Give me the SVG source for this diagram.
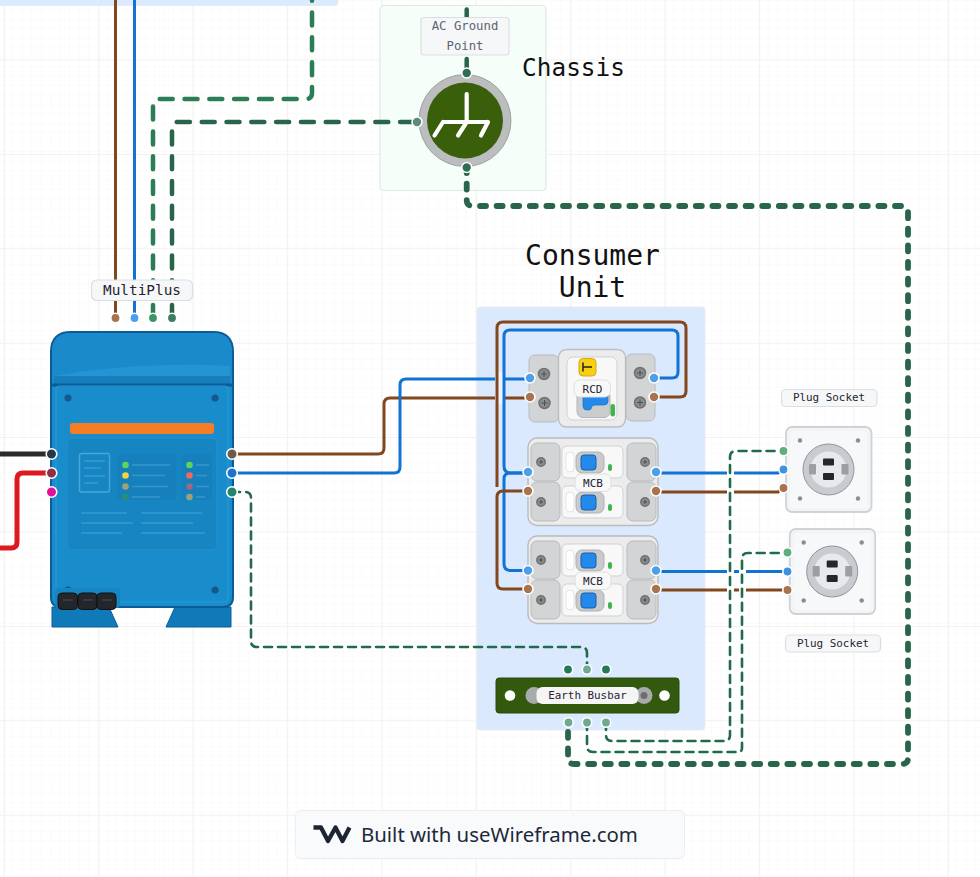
<svg xmlns="http://www.w3.org/2000/svg" width="980" height="877" viewBox="0 0 980 877">
<style>
.mono{font-family:"DejaVu Sans Mono","Liberation Mono",monospace;fill:#1f2430;text-anchor:middle}
.lbl{fill:#f6f7f8;stroke:#dcdfe2;stroke-width:1.2}
.w{fill:none;stroke-linejoin:round}
.bl{stroke:#1273d4;stroke-width:3}
.br{stroke:#83471e;stroke-width:3}
.g1{stroke:#2b7d55;stroke-width:4.5;stroke-linecap:round;stroke-dasharray:13 11.8}
.g2{stroke:#28654a;stroke-width:4.5;stroke-linecap:round;stroke-dasharray:13 11.8}
.g3{stroke:#28654a;stroke-width:5.8;stroke-linecap:round;stroke-dasharray:6 10.6}
.g4{stroke:#1f6b4a;stroke-width:2.6;stroke-linecap:round;stroke-dasharray:8 6}
.n{stroke:#fff;stroke-width:1.6}
.term{fill:#d3d4d5;stroke:#b8babc;stroke-width:1}
.sc{fill:#8a8b8d;stroke:#6f7072;stroke-width:1.5}
.sx{stroke:#4f5052;stroke-width:1;fill:none}
.ps{fill:#8b8d90}
.ln{stroke:#4aa6d8;stroke-width:1.6;opacity:.6}
.scr{fill:#14598c}
</style>
<defs>
<pattern id="gm" width="9.44" height="9.44" patternUnits="userSpaceOnUse" x="4" y="1"><path d="M9.44 0V9.44H0" fill="none" stroke="#f7f8f8" stroke-width="1"/></pattern>
<pattern id="gM" width="94.4" height="94.4" patternUnits="userSpaceOnUse" x="4" y="59.5"><path d="M0.5 0V94.4M0 0.5H94.4" fill="none" stroke="#f0f1f2" stroke-width="1"/></pattern>
<g id="mcbBody">
<rect x="528" y="438" width="130" height="87.500" rx="9" fill="#ececed" stroke="#b9bbbd" stroke-width="1.400"/>
<rect x="531" y="443" width="29" height="38" rx="6" class="term"/><rect x="531" y="482" width="29" height="39" rx="6" class="term"/>
<rect x="627" y="443" width="29" height="38" rx="6" class="term"/><rect x="627" y="482" width="29" height="39" rx="6" class="term"/>
<circle cx="541" cy="462" r="4.200" class="sc"/><circle cx="541" cy="502" r="4.200" class="sc"/><circle cx="645" cy="462" r="4.200" class="sc"/><circle cx="645" cy="502" r="4.200" class="sc"/>
<path class="sx" d="M539 462H543M541 460V464M539 502H543M541 500V504M643 462H647M645 460V464M643 502H647M645 500V504"/>
<g id="mcbHalf"><rect x="562" y="446" width="61" height="32" rx="5" fill="#f8f8f9" stroke="#d0d1d3"/><rect x="566" y="452" width="8" height="20" rx="4" fill="#fff" stroke="#e2e3e4"/><rect x="576" y="452" width="28" height="21" rx="6" fill="#c9cacc" stroke="#aeb0b2"/><rect x="581" y="455" width="15" height="15" rx="3" fill="#2389ea" stroke="#1a5fa8"/><rect x="608" y="464" width="4" height="7" rx="2" fill="#3fb54f"/></g>
<use href="#mcbHalf" y="40"/>
<rect x="575" y="474" width="36" height="17.500" rx="6" fill="#f8f8f9" stroke="#dedfe1"/>
<text x="593" y="486.500" font-size="11" class="mono">MCB</text>
</g>
<g id="sock">
<rect x="786" y="427" width="85.500" height="85" rx="6" fill="#f3f4f6" stroke="#cfd3d8" stroke-width="1.800"/>
<rect x="790" y="431" width="77.500" height="77" rx="4" fill="#f7f8f9"/>
<circle cx="800" cy="440.500" r="2.200" class="ps"/><circle cx="858" cy="440.500" r="2.200" class="ps"/><circle cx="800" cy="498.500" r="2.200" class="ps"/><circle cx="858" cy="498.500" r="2.200" class="ps"/>
<circle cx="828.500" cy="469.500" r="25.500" fill="#c8ccd1" stroke="#8f949a" stroke-width="1"/>
<circle cx="828.500" cy="469.500" r="18" fill="#e7e9ec"/>
<rect x="809" y="464" width="7" height="10.500" rx="1" fill="#9c9ea1"/><rect x="841.500" y="464" width="7" height="10.500" rx="1" fill="#9c9ea1"/>
<rect x="823" y="458.500" width="11" height="7" rx="1" fill="#24262a"/><rect x="823" y="473" width="11" height="7" rx="1" fill="#24262a"/>
</g>
</defs>
<rect width="980" height="877" fill="#fff"/>
<rect width="980" height="877" fill="url(#gm)"/>
<rect width="980" height="877" fill="url(#gM)"/>
<rect x="-5" y="-10" width="343" height="15.500" rx="3" fill="#dbeafe" stroke="#e4ecf6"/>
<rect x="380" y="5.500" width="166" height="185" rx="4" fill="#f6fef9" stroke="#e0e8e4" stroke-width="1.200"/>
<rect x="477" y="307" width="228" height="423" rx="3" fill="#dbe9fe" stroke="#e6edf6"/>
<text x="592.500" y="265" font-size="28" class="mono" style="fill:#111">Consumer</text>
<text x="592.500" y="297" font-size="28" class="mono" style="fill:#111">Unit</text>
<text x="573.500" y="76" font-size="24.400" class="mono" style="fill:#111">Chassis</text>

<g id="connectors">
<path class="w br" d="M115.500 0V318"/>
<path class="w bl" d="M134.500 0V318"/>
<path class="w g1" d="M153 318V105Q153 99 159 99H306Q312 99 312 93V-4"/>
<path class="w g2" d="M172 318V128Q172 122 178 122H417"/>
<path class="w g2" d="M466.700 72V-4"/>
<path class="w g3" d="M466.700 167V200Q466.700 206 472.700 206H902Q908 206 908 212V758Q908 764 902 764H574Q568 764 568 758V722"/>
<path class="w" stroke="#2b2b2b" stroke-width="5" d="M-2 454H48"/>
<path class="w" stroke="#dc1a1f" stroke-width="5" d="M51 473H23Q17 473 17 479V542Q17 548 11 548H-2"/>
<path class="w br" d="M232 454H378Q384 454 384 448V404Q384 398 390 398H530"/>
<path class="w bl" d="M232 473H394Q400 473 400 467V385Q400 379 406 379H530"/>
<path d="M495 372H505V404H495Z" fill="#eef4fd"/>
<path class="w br" d="M654 397H680Q686 397 686 391V328Q686 322 680 322H503Q497 322 497 328V487"/>
<path class="w bl" d="M654 378H672Q678 378 678 372V336Q678 330 672 330H510Q504 330 504 336V466Q504 473 511 473H528"/>
<path class="w bl" d="M528 473H510Q504 473 504 479V564Q504 570.500 511 570.500H528"/>
<path class="w br" d="M528 491H503Q497 491 497 497V583Q497 589 503 589H528"/>
<path class="w bl" d="M656 473H727M734 473H778L783 469"/>
<path class="w br" d="M656 492H727M734 492H778L783 488"/>
<path class="w bl" d="M656 571.500H727M734 571.500H739M746 571.500H787"/>
<path class="w br" d="M656 590H727M734 590H739M746 590H787"/>
<path class="w g4" d="M232 492H245Q251 492 251 498V641Q251 647 257 647H581Q587 647 587 653V670"/>
<path class="w g4" d="M606 722V735Q606 741 612 741H724Q730 741 730 735V457Q730 451 736 451H783"/>
<path class="w g4" d="M587 722V746Q587 752 593 752H738Q742 752 742 748V559Q742 553 748 553H787"/>
</g>

<g id="ground">
<rect x="421" y="17.500" width="88" height="37.500" rx="3" class="lbl"/>
<text x="465" y="30" font-size="12.300" class="mono" style="fill:#5b6472">AC Ground</text>
<text x="465" y="49.500" font-size="12.300" class="mono" style="fill:#5b6472">Point</text>
<circle cx="465" cy="120.500" r="46" fill="#bcbdbf" stroke="#9fa1a3" stroke-width="1"/>
<circle cx="465" cy="120.500" r="38" fill="#395f0b"/>
<path d="M466.700 94V122M443 122H488M443 122L434.500 135.500M466.700 122L458 135.500M488 122L481 135.500" fill="none" stroke="#fff" stroke-width="4.200" stroke-linecap="round" stroke-linejoin="round"/>
<circle cx="466.700" cy="73" r="5" fill="#2f6e52" class="n"/>
<circle cx="466.700" cy="167.500" r="5" fill="#2f6e52" class="n"/>
<circle cx="417" cy="122" r="5" fill="#5d8c76" class="n"/>
</g>

<g id="multiplus">
<path d="M52 627V607H109L118 627ZM175 607L166 627H231V607Z" fill="#1079b8" stroke="#0d5f98" stroke-width="1"/>
<path d="M51 352Q51 332 71 332H213Q233 332 233 352V597Q233 607 223 607H61Q51 607 51 597Z" fill="#198ccb" stroke="#0b5c96" stroke-width="2"/>
<path d="M52 385V352Q52 333 71 333H213Q232 333 232 352V385Z" fill="#1a8acb"/>
<path d="M54 376Q110 366 170 365Q200 364 230 366V376Z" fill="#2a9ad6" opacity=".7"/>
<path d="M54 376H230V384H54Z" fill="#177fbd"/>
<path d="M51 385H233" stroke="#0b5c96" stroke-width="3"/>
<rect x="56" y="386" width="172" height="216" rx="3" fill="none" stroke="#2b9ad6" stroke-width="1"/>
<circle cx="68" cy="398" r="3.500" class="scr"/><circle cx="215" cy="398" r="3.500" class="scr"/><circle cx="68" cy="590" r="3.500" class="scr"/><circle cx="215" cy="590" r="3.500" class="scr"/>
<rect x="70" y="423" width="144" height="11" rx="3" fill="#f57d25"/>
<rect x="67" y="438" width="150" height="112" rx="6" fill="#1885c3" stroke="#2790cd"/>
<rect x="79.500" y="453.500" width="30" height="38.500" rx="2" fill="none" stroke="#4aa6d8" stroke-width="1.400"/>
<path class="ln" d="M84 461H105M84 468H101M84 476H105M84 483H98"/>
<rect x="117" y="454" width="59" height="46" rx="4" fill="#1680bc"/>
<rect x="182" y="454" width="30" height="46" rx="4" fill="#1680bc"/>
<circle cx="125.500" cy="465" r="3.300" fill="#5fd35f"/><circle cx="125.500" cy="475.500" r="3.300" fill="#f5d33f"/><circle cx="125.500" cy="486.500" r="3.300" fill="#9aa376"/><circle cx="125.500" cy="497" r="3.300" fill="#2a8f78"/>
<circle cx="189.500" cy="465" r="3.300" fill="#5fd35f"/><circle cx="189.500" cy="475.500" r="3.300" fill="#ef6a5a"/><circle cx="189.500" cy="486.500" r="3.300" fill="#9a6a80"/><circle cx="189.500" cy="497" r="3.300" fill="#9aa376"/>
<path class="ln" d="M132 465H170M132 475.500H165M132 486.500H168M132 497H160M196 465H209M196 475.500H207M196 486.500H209M196 497H205"/>
<path class="ln" d="M81 513H127M81 523H133M81 533H122M141 513H202M141 523H193M141 533H205"/>
<rect x="55" y="588" width="65" height="20" rx="4" fill="#1885c3"/>
<rect x="58" y="593" width="19.500" height="16.500" rx="4" fill="#23262b" stroke="#111"/><rect x="78" y="593" width="19" height="16.500" rx="4" fill="#23262b" stroke="#111"/><rect x="97" y="593" width="19" height="16.500" rx="4" fill="#23262b" stroke="#111"/>
<path d="M63 600H73M83 600H93M102 600H112" stroke="#4a4d52" stroke-width="1"/>
<rect x="91.500" y="280" width="101" height="20.500" rx="5" class="lbl"/>
<text x="142" y="294.500" font-size="14.400" class="mono">MultiPlus</text>
<circle cx="115.500" cy="318" r="4.700" fill="#a8734e" class="n"/><circle cx="134.500" cy="318" r="4.700" fill="#4f9fe6" class="n"/><circle cx="153" cy="318" r="4.700" fill="#3f9465" class="n"/><circle cx="172" cy="318" r="4.700" fill="#3b7d60" class="n"/>
<circle cx="51.500" cy="454" r="5.300" fill="#26384a" class="n"/><circle cx="51.500" cy="473" r="5.300" fill="#8f2f46" class="n"/><circle cx="51.500" cy="492" r="5.300" fill="#e3109a" class="n"/>
<circle cx="232" cy="454" r="5.300" fill="#6a5a50" class="n"/><circle cx="232" cy="473" r="5.300" fill="#1b74cc" class="n"/><circle cx="232" cy="492" r="5.300" fill="#22876a" class="n"/>
</g>

<g id="rcd">
<rect x="529" y="355" width="30" height="67" rx="6" class="term"/>
<rect x="626" y="354" width="29" height="67" rx="6" class="term"/>
<rect x="558.500" y="349.500" width="67" height="77.500" rx="8" fill="#ececed" stroke="#bcbec0" stroke-width="1.400"/>
<rect x="567" y="357" width="50" height="63" rx="6" fill="#f8f8f9" stroke="#d0d1d3"/>
<rect x="579" y="358.500" width="17" height="17.500" rx="4" fill="#f7cf14" stroke="#d9a90c"/>
<path d="M583 367H592M583 362.500V371.500" stroke="#222" stroke-width="1.500" fill="none"/>
<rect x="577" y="390" width="33" height="27.500" rx="6" fill="#cbccce" stroke="#b2b4b6"/>
<path d="M583 394H608V401Q608 405 604 405H595Q591 405 591 409Q591 410 588 410H587Q583 410 583 406Z" fill="#2389ea" stroke="#1a6fc0" stroke-width=".7"/>
<rect x="610.500" y="404" width="4.500" height="12.500" rx="2.200" fill="#3fb54f"/>
<rect x="574" y="380" width="36.500" height="17" rx="6" fill="#f8f8f9" stroke="#dedfe1"/>
<text x="592.500" y="392.500" font-size="11" class="mono">RCD</text>
<circle cx="544" cy="374" r="5.500" class="sc"/><path class="sx" d="M541 374H547M544 371V377"/>
<circle cx="544.500" cy="403" r="5.500" class="sc"/><path class="sx" d="M541.500 403H547.500M544.500 400V406"/>
<circle cx="640" cy="373" r="5.500" class="sc"/><path class="sx" d="M637 373H643M640 370V376"/>
<circle cx="640" cy="402.500" r="5.500" class="sc"/><path class="sx" d="M637 402.500H643M640 399.500V405.500"/>
<circle cx="530" cy="378" r="5" fill="#4f9fe6" class="n"/><circle cx="530" cy="397" r="5" fill="#a8734e" class="n"/>
<circle cx="654" cy="378" r="5" fill="#4f9fe6" class="n"/><circle cx="654" cy="397" r="5" fill="#a8734e" class="n"/>
</g>

<g id="mcb1">
<use href="#mcbBody"/>
<circle cx="528" cy="472" r="5" fill="#4f9fe6" class="n"/><circle cx="528" cy="491" r="5" fill="#a8734e" class="n"/>
<circle cx="656" cy="472" r="5" fill="#4f9fe6" class="n"/><circle cx="656" cy="491" r="5" fill="#a8734e" class="n"/>
</g>
<g id="mcb2">
<use href="#mcbBody" y="98"/>
<circle cx="528" cy="570.500" r="5" fill="#4f9fe6" class="n"/><circle cx="528" cy="589" r="5" fill="#a8734e" class="n"/>
<circle cx="656" cy="570.500" r="5" fill="#4f9fe6" class="n"/><circle cx="656" cy="589" r="5" fill="#a8734e" class="n"/>
</g>

<g id="busbar">
<rect x="496" y="678" width="183" height="35" rx="3" fill="#33590f" stroke="#2a4a0c"/>
<circle cx="510" cy="695.500" r="5.300" fill="#fff"/><circle cx="664.500" cy="695.500" r="5.300" fill="#fff"/>
<circle cx="534" cy="695.500" r="8.500" fill="#a9aaac"/><circle cx="644" cy="695.500" r="8.500" fill="#a9aaac"/><circle cx="644" cy="695.500" r="3.500" fill="#6e6f71"/>
<rect x="536.500" y="687" width="102" height="17" rx="6" fill="#f5f5f6"/>
<text x="587.500" y="698.700" font-size="10.900" class="mono">Earth Busbar</text>
<circle cx="568" cy="669.500" r="4.700" fill="#237a57" class="n"/><circle cx="587" cy="669.500" r="4.700" fill="#6ea992" class="n"/><circle cx="606" cy="669.500" r="4.700" fill="#237a57" class="n"/>
<circle cx="568.500" cy="722.500" r="4.700" fill="#6ea992" class="n"/><circle cx="587" cy="722.500" r="4.700" fill="#6ea992" class="n"/><circle cx="606" cy="722.500" r="4.700" fill="#6ea992" class="n"/>
</g>

<g id="socket1">
<use href="#sock"/>
<rect x="781.500" y="389.500" width="95.500" height="17" rx="4" class="lbl"/>
<text x="829" y="401.200" font-size="10.900" class="mono">Plug Socket</text>
<circle cx="783.500" cy="451" r="4.700" fill="#5fae80" class="n"/><circle cx="783.500" cy="469.500" r="4.700" fill="#3f92e2" class="n"/><circle cx="783.500" cy="488" r="4.700" fill="#a8734e" class="n"/>
</g>
<g id="socket2">
<use href="#sock" x="3.700" y="102"/>
<rect x="785.500" y="635" width="95" height="17" rx="4" class="lbl"/>
<text x="833" y="646.700" font-size="10.900" class="mono">Plug Socket</text>
<circle cx="787.500" cy="552.500" r="4.700" fill="#5fae80" class="n"/><circle cx="787.500" cy="571.500" r="4.700" fill="#3f92e2" class="n"/><circle cx="787.500" cy="590" r="4.700" fill="#a8734e" class="n"/>
</g>

<g id="footer">
<rect x="295.500" y="810.500" width="389" height="48" rx="5" fill="#f8fafc" stroke="#eceff2"/>
<path d="M313.500 827.500H321L328 841L335.500 827.500L342.500 841L349.500 827.500" fill="none" stroke="#1e2532" stroke-width="4.300" stroke-linejoin="round"/>
<text x="361" y="841.500" font-size="20.400" font-family="'Noto Sans','Open Sans',sans-serif" fill="#1e293b">Built with useWireframe.com</text>
</g>
</svg>
